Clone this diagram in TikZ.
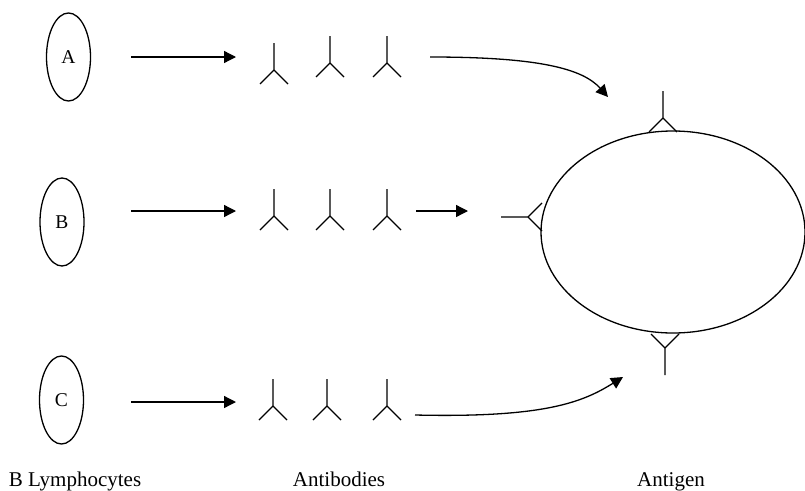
\documentclass[tikz,border=0pt]{standalone}
\usepackage{fontspec}
\setmainfont{Liberation Serif}
\usetikzlibrary{shapes.geometric,arrows.meta}
\tikzset{line/.style={draw, line width=1.3pt, -{Triangle[length=12pt,width=12pt]}}}
\tikzset{antibody/.pic={\draw[line width=1.3pt] (0,-27) -- (0,0) (-14,14) -- (0,0) -- (14,14);}}

\begin{document}
\begin{tikzpicture}[x=1pt,y=-1pt]
\tikzstyle{cell} = [ellipse, draw, line width=1.3pt, inner sep=0pt, minimum width=44pt, minimum height=88pt, font=\fontsize{19.5}{21}\selectfont]
\tikzstyle{caption} = [anchor=base, font=\fontsize{21}{24}\selectfont]
\useasboundingbox (0,0) rectangle (805,490);

% lymphocytes
    \node [cell] (cellA) at (68.5,57) {A};
    \node [cell] (cellB) at (62,222) {B};
    \node [cell] (cellC) at (61.5,400) {C};
% antibodies
    \pic (abA1) at (274,70) {antibody};
    \pic (abA2) at (330,63) {antibody};
    \pic (abA3) at (387,63) {antibody};
    \pic (abB1) at (274,216) {antibody};
    \pic (abB2) at (330,216) {antibody};
    \pic (abB3) at (387,216) {antibody};
    \pic (abC1) at (273,406) {antibody};
    \pic (abC2) at (327,406) {antibody};
    \pic (abC3) at (387,406) {antibody};
% antigen
    \node [ellipse, draw, line width=1.3pt, minimum width=264pt, minimum height=202pt] (antigen) at (673,232) {};
    \pic (recTop) at (663,118) {antibody};
    \pic [rotate=90] (recLeft) at (528,217) {antibody};
    \pic [rotate=180] (recBottom) at (665,348) {antibody};
% captions
    \node [caption] (lymph) at (75,486) {B Lymphocytes};
    \node [caption] (abody) at (339,486) {Antibodies};
    \node [caption] (agen) at (671,486) {Antigen};
% arrow ends
    \coordinate (fromA) at (131,57);
    \coordinate (toA) at (236,57);
    \coordinate (fromB) at (131,211);
    \coordinate (toB) at (236,211);
    \coordinate (fromC) at (131,402);
    \coordinate (toC) at (236,402);
    \coordinate (outA) at (430,57);
    \coordinate (hitA) at (608,97);
    \coordinate (outB) at (416,211);
    \coordinate (hitB) at (468,211);
    \coordinate (outC) at (415,415);
    \coordinate (hitC) at (623,377);
% arrows
    \path [line] (fromA) -- (toA);
    \path [line] (fromB) -- (toB);
    \path [line] (fromC) -- (toC);
    \path [line] (outA) .. controls +(110,0) and +(-25,-28) .. (hitA);
    \path [line] (outB) -- (hitB);
    \path [line] (outC) .. controls +(130,3) and +(-40,25) .. (hitC);

\end{tikzpicture}
\end{document}
